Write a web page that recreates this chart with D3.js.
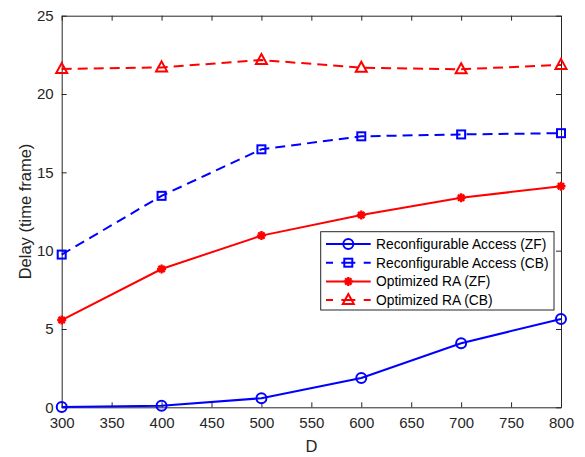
<!DOCTYPE html>
<html>
<head>
<meta charset="utf-8">
<script src="https://cdn.jsdelivr.net/npm/d3@7"></script>
<style>
  body { margin: 0; background: #fff; }
  svg { display: block; font-family: "Liberation Sans", Arial, sans-serif; }
</style>
</head>
<body>
<div id="chart"></div>
<script>
// data
const D = [300, 400, 500, 600, 700, 800];
const reconfZF = [0.02, 0.1, 0.58, 1.87, 4.09, 5.64];
const reconfCB = [9.75, 13.5, 16.47, 17.3, 17.42, 17.5];
const optZF = [5.57, 8.83, 10.96, 12.28, 13.38, 14.11];
const optCB = [21.6, 21.7, 22.17, 21.68, 21.58, 21.86];
const xTicks = [300, 350, 400, 450, 500, 550, 600, 650, 700, 750, 800];
const yTicks = [0, 5, 10, 15, 20, 25];

const series = [
  { name: 'Reconfigurable Access (ZF)', values: reconfZF, color: '#0000ff', dash: null, marker: 'circle' },
  { name: 'Reconfigurable Access (CB)', values: reconfCB, color: '#0000ff', dash: '10,6', marker: 'square' },
  { name: 'Optimized RA (ZF)', values: optZF, color: '#ff0000', dash: null, marker: 'star' },
  { name: 'Optimized RA (CB)', values: optCB, color: '#ff0000', dash: '10,6', marker: 'triangle' }
];

const width = 585, height = 457;
const plotL = 61.7, plotR = 561, plotT = 15.7, plotB = 407.3;
const axisColor = '#262626';

const svg = d3.select('#chart').append('svg')
  .attr('width', width)
  .attr('height', height);

const x = d3.scaleLinear().domain([300, 800]).range([plotL, plotR]);
const y = d3.scaleLinear().domain([0, 25]).range([plotB, plotT]);

// axes (MATLAB style: ticks inside, box on)
const gx = svg.append('g').attr('transform', `translate(0,${plotB})`)
  .call(d3.axisBottom(x).tickValues(xTicks).tickSizeInner(-5).tickSizeOuter(0).tickPadding(10));
const gxTop = svg.append('g').attr('transform', `translate(0,${plotT})`)
  .call(d3.axisTop(x).tickValues(xTicks).tickSizeInner(-5).tickSizeOuter(0).tickFormat(''));
const gy = svg.append('g').attr('transform', `translate(${plotL},0)`)
  .call(d3.axisLeft(y).tickValues(yTicks).tickSizeInner(-5).tickSizeOuter(0).tickPadding(8));
const gyRight = svg.append('g').attr('transform', `translate(${plotR},0)`)
  .call(d3.axisRight(y).tickValues(yTicks).tickSizeInner(-5).tickSizeOuter(0).tickFormat(''));

[gx, gxTop, gy, gyRight].forEach(g => {
  g.select('.domain').attr('stroke', axisColor).attr('stroke-width', 1);
  g.selectAll('.tick line').attr('stroke', axisColor).attr('stroke-width', 1);
  g.selectAll('.tick text').attr('fill', axisColor).style('font-size', '15px')
    .style('font-family', '"Liberation Sans", Arial, sans-serif');
});

// axis labels
svg.append('text')
  .attr('x', (plotL + plotR) / 2)
  .attr('y', 452)
  .attr('text-anchor', 'middle')
  .attr('fill', axisColor)
  .style('font-size', '16.5px')
  .text('D');

svg.append('text')
  .attr('transform', `translate(31,${(plotT + plotB) / 2}) rotate(-90)`)
  .attr('text-anchor', 'middle')
  .attr('fill', axisColor)
  .style('font-size', '16.5px')
  .text('Delay (time frame)');

// markers
function drawMarker(g, type, color) {
  if (type === 'circle') {
    g.append('circle').attr('r', 5).attr('fill', 'none').attr('stroke', color).attr('stroke-width', 2);
  } else if (type === 'square') {
    g.append('rect').attr('x', -4).attr('y', -4).attr('width', 8).attr('height', 8)
      .attr('fill', 'none').attr('stroke', color).attr('stroke-width', 2);
  } else if (type === 'triangle') {
    g.append('path').attr('d', 'M0,-6 L5.5,4 L-5.5,4 Z')
      .attr('fill', 'none').attr('stroke', color).attr('stroke-width', 2);
  } else if (type === 'star') {
    const s = 4.5;
    g.append('path')
      .attr('d', `M${-s},0 L${s},0 M0,${-s} L0,${s} M${-s * 0.7},${-s * 0.7} L${s * 0.7},${s * 0.7} M${-s * 0.7},${s * 0.7} L${s * 0.7},${-s * 0.7}`)
      .attr('stroke', color).attr('stroke-width', 2.4);
  }
}

const line = d3.line().x(d => x(d[0])).y(d => y(d[1]));

series.forEach(s => {
  const pts = D.map((d, i) => [d, s.values[i]]);
  svg.append('path')
    .datum(pts)
    .attr('d', line)
    .attr('fill', 'none')
    .attr('stroke', s.color)
    .attr('stroke-width', 2)
    .attr('stroke-dasharray', s.dash);
  pts.forEach(p => {
    const g = svg.append('g').attr('transform', `translate(${x(p[0])},${y(p[1])})`);
    drawMarker(g, s.marker, s.color);
  });
});

// legend
const legX = 320.7, legY = 231.7, legW = 233.3, legH = 78.3;
const legend = svg.append('g');
legend.append('rect')
  .attr('x', legX).attr('y', legY)
  .attr('width', legW).attr('height', legH)
  .attr('fill', '#fff').attr('stroke', axisColor).attr('stroke-width', 1);

series.forEach((s, i) => {
  const cy = 244 + i * 18.7;
  legend.append('line')
    .attr('x1', 326).attr('x2', 370.7)
    .attr('y1', cy).attr('y2', cy)
    .attr('stroke', s.color).attr('stroke-width', 2)
    .attr('stroke-dasharray', s.dash ? '7,8.35,14,8.35,7' : null);
  const g = legend.append('g').attr('transform', `translate(348.3,${cy})`);
  drawMarker(g, s.marker, s.color);
  legend.append('text')
    .attr('x', 376).attr('y', cy)
    .attr('dy', '0.35em')
    .attr('fill', '#000')
    .style('font-size', '13.8px')
    .text(s.name);
});
</script>
</body>
</html>
